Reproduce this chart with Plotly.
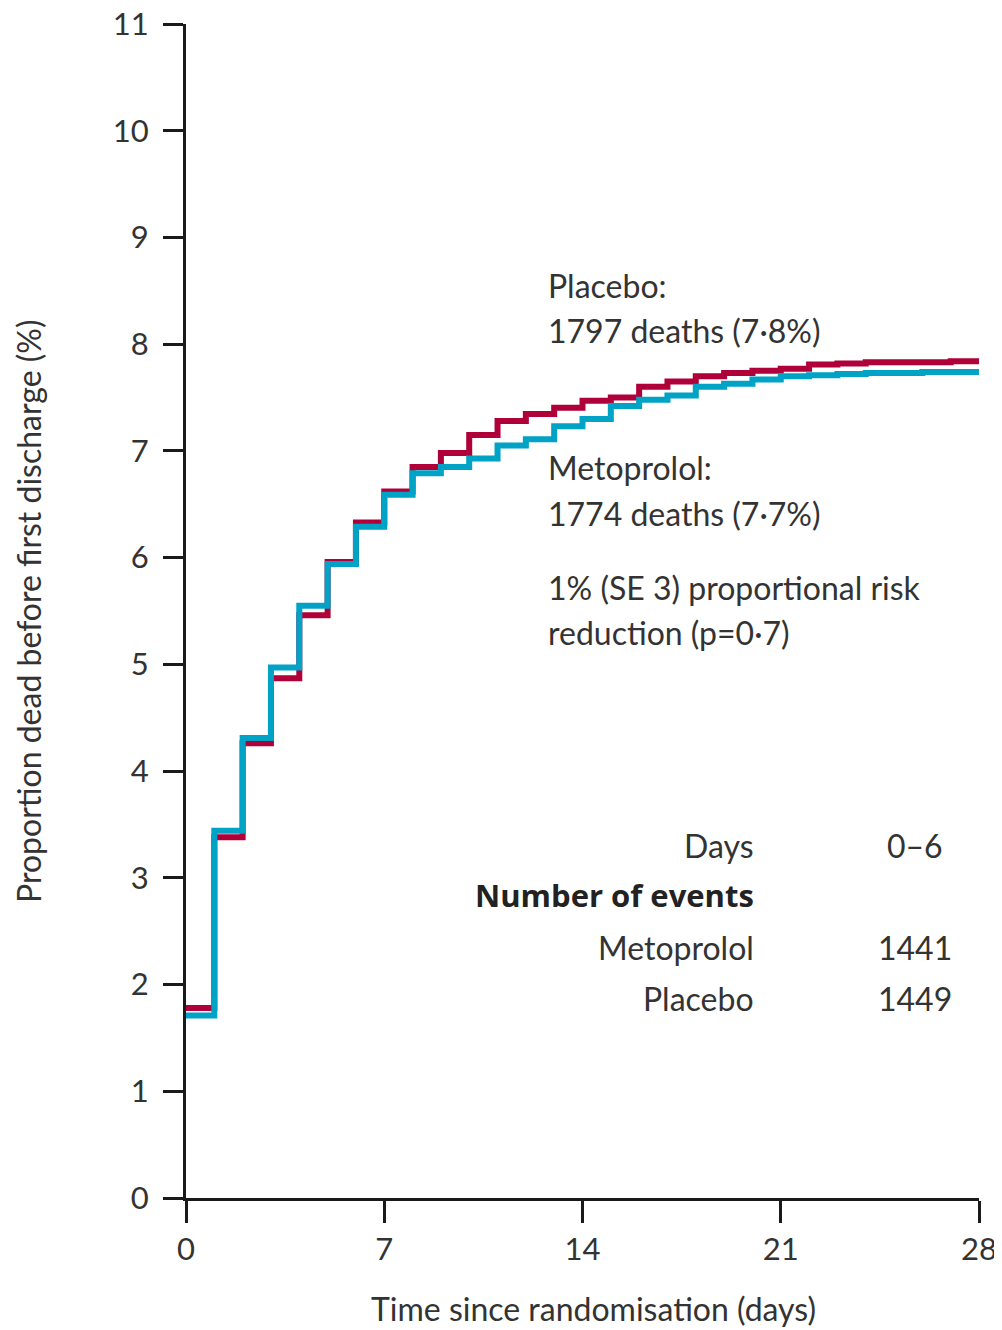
import plotly.graph_objects as go

days = list(range(0, 29))
placebo = [1.78, 3.38, 4.26, 4.87, 5.46, 5.96, 6.33, 6.62, 6.85, 6.98, 7.15, 7.28, 7.345, 7.405,
           7.47, 7.50, 7.60, 7.65, 7.70, 7.73, 7.75, 7.77, 7.81, 7.82, 7.83, 7.83, 7.83, 7.84]
metoprolol = [1.71, 3.44, 4.31, 4.97, 5.55, 5.94, 6.29, 6.59, 6.79, 6.85, 6.93, 7.05, 7.11, 7.23,
              7.30, 7.42, 7.48, 7.52, 7.60, 7.63, 7.67, 7.70, 7.71, 7.72, 7.73, 7.73, 7.74, 7.74]
# extend final value to day 28 for the step line
placebo_y = placebo + [placebo[-1]]
metoprolol_y = metoprolol + [metoprolol[-1]]

x_ticks = [0, 7, 14, 21, 28]
y_ticks = list(range(0, 12))

RED = "#b0003a"
BLUE = "#00a2c6"
FONT = "Lato"
TXT = "#333333"

fig = go.Figure()
fig.add_trace(go.Scatter(x=days, y=placebo_y, mode="lines", line=dict(shape="hv", color=RED, width=6),
                         name="Placebo", showlegend=False))
fig.add_trace(go.Scatter(x=days, y=metoprolol_y, mode="lines", line=dict(shape="hv", color=BLUE, width=6),
                         name="Metoprolol", showlegend=False))

OFF = 8  # page body margin
L, R, T, B = 186, 23, 24, 132   # in screen pixels
W, H = 1002 - OFF, 1330 - OFF
ml, mt = L - OFF, T - OFF
pw, ph = W - ml - R, H - mt - B

def px(xp):
    return (xp - L) / pw

def py(yp):
    return (1330 - B - yp) / ph

ann = []
def add(text, x, y, xanchor="left", size=32, bold=False, angle=0):
    ann.append(dict(text=text, x=px(x), y=py(y), xref="paper", yref="paper",
                    xanchor=xanchor, yanchor="middle", showarrow=False, textangle=angle,
                    font=dict(family="Open Sans" if bold else FONT, size=31 if bold else size,
                              color="#222222" if bold else TXT, weight=700 if bold else 400)))

add("Placebo:", 546, 285)
add("1797 deaths (7·8%)", 546, 330)
add("Metoprolol:", 546, 467)
add("1774 deaths (7·7%)", 546, 513)
add("1% (SE 3) proportional risk", 546, 587)
add("reduction (p=0·7)", 546, 632)
add("Days", 756, 845, xanchor="right")
add("0–6", 915, 845, xanchor="center")
add("Number of events", 756, 895, xanchor="right", bold=True)
add("Metoprolol", 756, 947, xanchor="right")
add("1441", 915, 947, xanchor="center")
add("Placebo", 756, 998, xanchor="right")
add("1449", 915, 998, xanchor="center")
# axis titles
add("Time since randomisation (days)", 593, 1308, xanchor="center")
add("Proportion dead before first discharge (%)", 29, 612, xanchor="center", angle=-90)

fig.update_layout(
    width=W, height=H,
    margin=dict(l=ml, r=R, t=mt, b=B, autoexpand=False),
    paper_bgcolor="white", plot_bgcolor="white",
    annotations=ann,
    xaxis=dict(range=[0, 28], tickvals=x_ticks, ticktext=[str(v) for v in x_ticks],
               showgrid=False, zeroline=False, showline=True, linecolor="#1a1a1a", linewidth=3,
               ticks="outside", ticklen=22, tickwidth=3, tickcolor="#1a1a1a", automargin=False,
               ticklabeloverflow="allow",
               tickfont=dict(family=FONT, size=31, color=TXT)),
    yaxis=dict(range=[0, 11], tickvals=y_ticks, ticktext=[str(v) for v in y_ticks],
               showgrid=False, zeroline=False, showline=True, linecolor="#1a1a1a", linewidth=3,
               ticks="outside", ticklen=20, tickwidth=3, tickcolor="#1a1a1a", automargin=False,
               ticklabelstandoff=8, ticklabeloverflow="allow",
               tickfont=dict(family=FONT, size=31, color=TXT)),
)

fig.write_html("out.html")
